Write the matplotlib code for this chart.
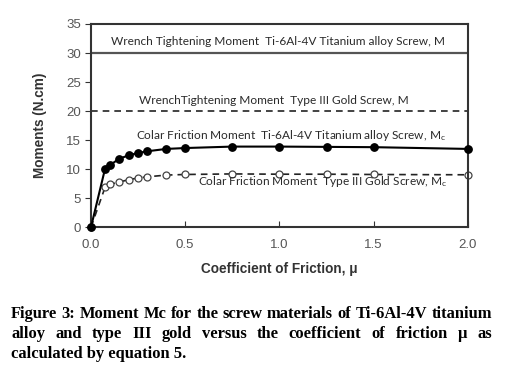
import matplotlib
matplotlib.use("Agg")
import matplotlib.pyplot as plt

# coefficient of friction and collar friction moments (N.cm)
mu = [0, 0.075, 0.1, 0.15, 0.2, 0.25, 0.3, 0.4, 0.5, 0.75, 1.0, 1.25, 1.5, 2.0]
ti_mc = [0, 10.1, 10.7, 11.8, 12.4, 12.8, 13.1, 13.5, 13.65, 13.9, 13.9, 13.85, 13.8, 13.5]
gold_mc = [0, 6.9, 7.4, 7.8, 8.2, 8.5, 8.7, 9.0, 9.1, 9.2, 9.15, 9.15, 9.1, 9.05]

# wrench tightening moments (N.cm)
ti_wrench = 30
gold_wrench = 20

x_ticks = [0.0, 0.5, 1.0, 1.5, 2.0]
y_ticks = [0, 5, 10, 15, 20, 25, 30, 35]

caption_lines = [
    "Figure 3: Moment Mc for the screw materials of Ti-6Al-4V titanium",
    "alloy and type III gold versus the coefficient of friction \u03bc as",
    "calculated by equation 5.",
]

plt.rcParams['mathtext.fontset'] = 'custom'
plt.rcParams['mathtext.rm'] = 'Lato'
plt.rcParams['mathtext.it'] = 'Lato'

fig = plt.figure(figsize=(5.08, 3.74), dpi=100)
ax = fig.add_axes([0.179, 0.392, 0.742, 0.544])

ax.axhline(ti_wrench, color='#555555', lw=1.6)
ax.axhline(gold_wrench, color='#222222', lw=1.2, ls=(0, (4, 3)))

ax.plot(mu, gold_mc, color='#222222', lw=1.2, ls=(0, (4, 3)),
        marker='o', ms=5, mfc='white', mec='#444444', mew=0.9, clip_on=False)
ax.plot(mu, ti_mc, color='black', lw=1.5,
        marker='o', ms=5.3, mfc='black', mec='black', clip_on=False, zorder=4)

txt = dict(family='Lato', fontsize=8.6, color='#2a2a2a', ha='center', va='bottom')
ax.text(0.99, 31.0, "Wrench Tightening Moment  Ti-6Al-4V Titanium alloy Screw, M", **txt)
ax.text(0.97, 20.9, "WrenchTightening Moment  Type III Gold Screw, M", **txt)
ax.text(1.06, 14.6, "Colar Friction Moment  Ti-6Al-4V Titanium alloy Screw, M$_\\mathrm{c}$", **txt)
ax.text(1.23, 6.6, "Colar Friction Moment  Type III Gold Screw, M$_\\mathrm{c}$", **txt)

ax.set_xlim(0, 2.0)
ax.set_ylim(0, 35)
ax.set_xticks(x_ticks)
ax.set_xticklabels(["%.1f" % v for v in x_ticks])
ax.set_yticks(y_ticks)
ax.tick_params(axis='x', direction='in', length=4, color='#333333', pad=8)
ax.tick_params(axis='y', direction='out', length=4, color='#333333', pad=3)
ax.tick_params(labelsize=9.5, labelcolor='#555555')
for lab in ax.get_xticklabels() + ax.get_yticklabels():
    lab.set_family('Liberation Sans')
for sp in ax.spines.values():
    sp.set_color('#333333')
    sp.set_linewidth(1.5)

ax.set_ylabel("Moments (N.cm)", family='Liberation Sans', fontweight='bold',
              fontsize=9.8, color='#333333', labelpad=14)
ax.set_xlabel("Coefficient of Friction, \u03bc", family='Liberation Sans', fontweight='bold',
              fontsize=9.8, color='#333333', labelpad=8)

# justified caption below the chart
fig.canvas.draw()
renderer = fig.canvas.get_renderer()
left_px, right_px = 11, 492
cap = dict(family='Liberation Serif', fontweight='bold', color='black',
           va='baseline', ha='left')

# pick a size at which the first line fills the width with normal spacing
probe = fig.text(0, 0, caption_lines[0], fontsize=10, **cap)
w10 = probe.get_window_extent(renderer).width
probe.remove()
size = 10 * (right_px - left_px) / w10
cap['fontsize'] = size

baselines = [318, 338, 358]
for i, line in enumerate(caption_lines):
    y = 1 - baselines[i] / 374
    words = line.split(" ")
    if i == len(caption_lines) - 1:
        fig.text(left_px / 508, y, line, **cap)
        continue
    arts = [fig.text(0, y, w, **cap) for w in words]
    widths = [a.get_window_extent(renderer).width for a in arts]
    gap = (right_px - left_px - sum(widths)) / (len(words) - 1)
    xpos = left_px
    for a, w in zip(arts, widths):
        a.set_x(xpos / 508)
        xpos += w + gap

fig.savefig("out.png", dpi=100)
